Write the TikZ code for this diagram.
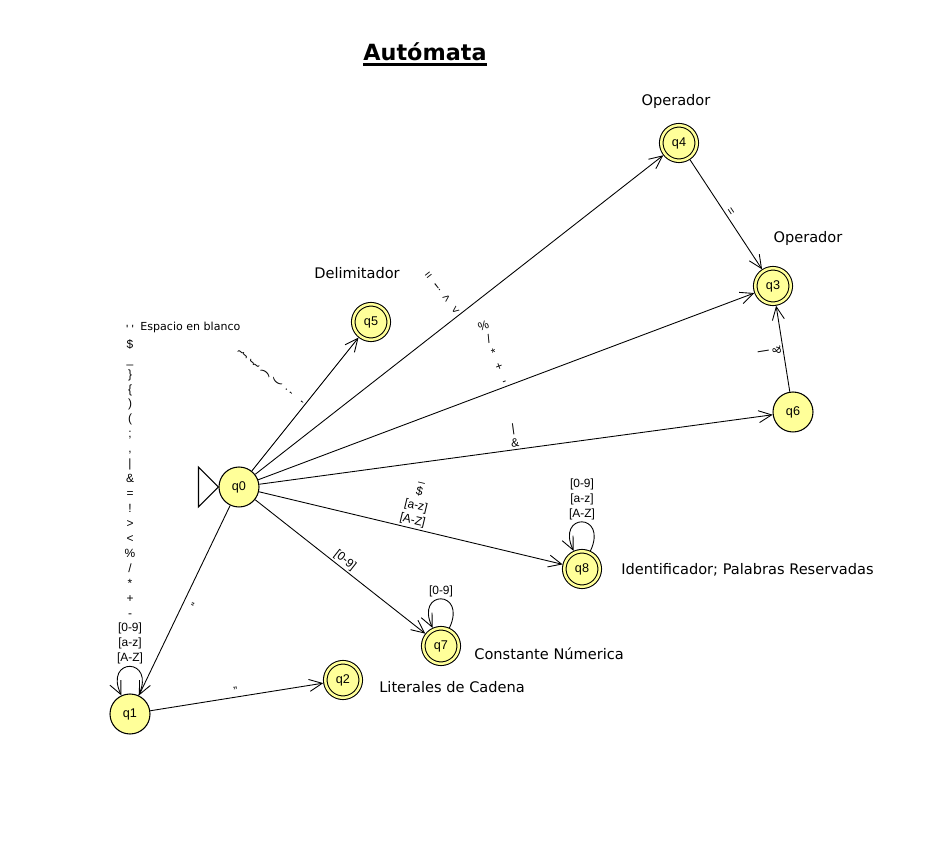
\documentclass[tikz,border=0pt]{standalone}
\usepackage{fontspec}
\setmainfont{Liberation Sans}
\newfontfamily\notefont{DejaVu Sans}
\usetikzlibrary{arrows.meta}
\definecolor{stateyellow}{RGB}{255,255,153}

\tikzset{
  state/.style={circle, draw, fill=stateyellow, minimum size=0.8cm, inner sep=0pt,
    line width=0.6pt, font=\fontsize{7.2}{8}\selectfont},
  final/.style={state, minimum size=0.71cm, double=stateyellow, double distance=0.05cm,
    outer sep=0.045cm},
  trans/.style={line width=0.5pt, -{Straight Barb[length=0.26cm, width=0.24cm]}},
  lbl/.style={sloped, allow upside down, above, align=center, inner sep=1pt,
    font=\fontsize{6.8}{8.3}\selectfont},
  looplbl/.style={above, align=center, inner sep=1pt, font=\fontsize{6.8}{8.5}\selectfont},
  note/.style={font=\notefont\fontsize{8.3}{9.6}\selectfont, inner sep=0pt}
}

\begin{document}
\begin{tikzpicture}[x=0.02cm, y=-0.02cm]
\useasboundingbox (0,0) rectangle (931,841);
\fill[white] (0,0) rectangle (931,841);

% estados
\node[state] (q0) at (239,487) {q0};
\node[state] (q1) at (130,714) {q1};
\node[final] (q2) at (343,680) {q2};
\node[final] (q3) at (773,286) {q3};
\node[final] (q4) at (679,143) {q4};
\node[final] (q5) at (371,322) {q5};
\node[state] (q6) at (793,412) {q6};
\node[final] (q7) at (441,646) {q7};
\node[final] (q8) at (582,569) {q8};

\draw[line width=0.6pt] (q0.west) -- ++(-20,-20) -- ++(0,40) -- cycle; %inicial

% transiciones
\draw[trans] (q0) -- node[lbl]{=\\!\\>\\<} (q4);
\draw[trans] (q0) -- node[lbl]{\%\\/\\*\\+\\-} (q3);
\draw[trans] (q0) -- node[lbl]{|\\\&} (q6);
\draw[trans] (q0) -- node[lbl]{\}\\\{\\)\\(\\;\\,} (q5);
\draw[trans] (q0) -- node[lbl]{\_\\\$\\{[a-z]}\\{[A-Z]}} (q8);
\draw[trans] (q0) -- node[lbl]{[0-9]} (q7);
\draw[trans] (q0) -- node[lbl]{"} (q1);
\draw[trans] (q1) -- node[lbl]{"} (q2);
\draw[trans] (q4) -- node[lbl]{=} (q3);
\draw[trans] (q6) -- node[lbl]{|\\\&} (q3);

\draw[trans] (q1) to[out=65, in=115, distance=0.85cm]
  node[looplbl]{\textquotesingle\ \textquotesingle\\\$\\\_\\\}\\\{\\)\\(\\;\\,\\|\\\&\\=\\!\\>\\<\\\%\\/\\*\\+\\-\\{[0-9]}\\{[a-z]}\\{[A-Z]}} (q1);
\draw[trans] (q7) to[out=65, in=115, distance=0.85cm] node[looplbl]{[0-9]} (q7);
\draw[trans] (q8) to[out=65, in=115, distance=0.85cm]
  node[looplbl]{[0-9]\\{[a-z]}\\{[A-Z]}} (q8);

% notas
\node[note, font=\notefont\bfseries\fontsize{12.7}{15}\selectfont, anchor=base] (title) at (425,61) {Autómata};
\draw[line width=1.8pt] ([yshift=-2pt]title.base west) -- ([yshift=-2pt]title.base east);
\node[note, anchor=base] (op4) at (676,106) {Operador};
\node[note, anchor=base] (op3) at (808,243) {Operador};
\node[note, anchor=base] (delim) at (357,279) {Delimitador};
\node[note, font=\notefont\fontsize{6.3}{7.5}\selectfont, anchor=base west] (blanco) at (140,331) {Espacio en blanco};
\node[note, anchor=base west] (ident) at (621,575) {Identificador; Palabras Reservadas};
\node[note, anchor=base west] (const) at (474,660) {Constante Númerica};
\node[note, anchor=base west] (lit) at (379,692) {Literales de Cadena};
\end{tikzpicture}
\end{document}
